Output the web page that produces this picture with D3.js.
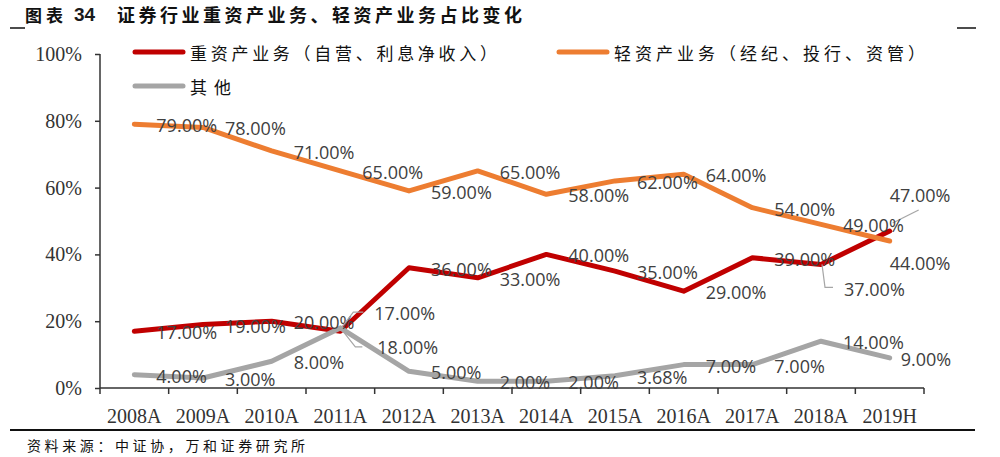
<!DOCTYPE html>
<html><head><meta charset="utf-8">
<script src="https://cdn.jsdelivr.net/npm/d3@7/dist/d3.min.js"></script>
<style>
html,body{margin:0;padding:0;background:#fff;}
svg{display:block;}
</style></head>
<body>
<svg id="chart" width="1000" height="457"></svg>
<script>
const categories = ['2008A','2009A','2010A','2011A','2012A','2013A','2014A','2015A','2016A','2017A','2018A','2019H'];
const heavyValues = [17,19,20,17,36,33,40,35,29,39,37,47];
const lightValues = [79,78,71,65,59,65,58,62,64,54,49,44];
const otherValues = [4,3,8,18,5,2,2,3.68,7,7,14,9];
const yTickValues = [0,20,40,60,80,100];
const seriesNames = ['重资产业务（自营、利息净收入）','轻资产业务（经纪、投行、资管）','其他'];
const titlePrefix = '图表';
const titleNumber = '34';
const titleText = '证券行业重资产业务、轻资产业务占比变化';
const sourceText = '资料来源：中证协，万和证券研究所';

(function(){
const series = [
  {name: seriesNames[0], values: heavyValues, color: '#C00000'},
  {name: seriesNames[1], values: lightValues, color: '#ED7D31'},
  {name: seriesNames[2], values: otherValues, color: '#A5A5A5'}
];

// label placement tweaks (series index -> category index -> offsets)
const labelAdjust = {
  0: {3: {dx:34, dy:-18, leader:[[0,-2],[13,-19],[23,-19]]},
      10:{dx:23, dy:25, leader:[[1,0],[4,23],[12,23]]},
      11:{dx:0, dy:-36, leader:[[3,-8],[29,-21]]}},
  1: {11:{dx:0, dy:22}},
  2: {3: {dx:37, dy:19, leader:[[0,0],[15,19],[22,19]]},
      11:{dx:11, dy:1}}
};

const svg = d3.select('#chart');
const pL = 100, pR = 924, pT = 54, pB = 388;

const x = d3.scaleBand().domain(categories).range([pL, pR]);
const xEdge = d3.scaleLinear().domain([0, categories.length]).range([pL, pR]);
const y = d3.scaleLinear().domain([0, 100]).range([pB, pT]);
const cx = c => x(c) + x.bandwidth() / 2;

// title
const title = svg.append('g');
title.append('text').attr('x', 25).attr('y', 14).attr('dominant-baseline','central')
  .attr('font-family','Noto Sans CJK SC').attr('font-weight','bold').attr('font-size',17)
  .attr('fill','#111').text(titlePrefix).attr('textLength', 38).attr('lengthAdjust','spacing');
title.append('text').attr('x', 74).attr('y', 14).attr('dominant-baseline','central')
  .attr('font-family','Liberation Sans').attr('font-weight','bold').attr('font-size',19)
  .attr('fill','#1a1a1a').text(titleNumber);
title.append('text').attr('x', 117).attr('y', 14).attr('dominant-baseline','central')
  .attr('font-family','Noto Sans CJK SC').attr('font-weight','bold').attr('font-size',18)
  .attr('fill','#111').text(titleText).attr('textLength', 405).attr('lengthAdjust','spacing');
svg.append('line').attr('x1',10).attr('x2',25).attr('y1',28).attr('y2',28).attr('stroke','#111').attr('stroke-width',1.5);
svg.append('line').attr('x1',957).attr('x2',976).attr('y1',28).attr('y2',28).attr('stroke','#111').attr('stroke-width',1.5);

// y axis
const yAxis = svg.append('g').attr('transform', `translate(${pL},0)`)
  .call(d3.axisLeft(y).tickValues(yTickValues).tickFormat(d => d + '%').tickSize(5).tickPadding(13));
yAxis.select('.domain').attr('stroke','#333').attr('stroke-width',1.5).attr('d', `M0,${pT}V${pB}`);
yAxis.selectAll('.tick line').attr('stroke','#333').attr('stroke-width',1.5);
yAxis.selectAll('.tick text').attr('font-family','Liberation Serif').attr('font-size',20).attr('fill','#333');

// x axis
const xAxis = svg.append('g').attr('transform', `translate(0,${pB})`)
  .call(d3.axisBottom(x).tickSize(0).tickPadding(0));
xAxis.select('.domain').attr('stroke','#333').attr('stroke-width',1.5).attr('d', `M${pL},0H${pR}`);
xAxis.selectAll('.tick text').attr('font-family','Liberation Serif').attr('font-size',20).attr('fill','#333')
  .attr('y', 28).attr('dy', null).attr('dominant-baseline','central');
xAxis.selectAll('line.edge').data(d3.range(categories.length + 1)).join('line').attr('class','edge')
  .attr('x1', i => xEdge(i)).attr('x2', i => xEdge(i)).attr('y1', 0).attr('y2', 6)
  .attr('stroke','#333').attr('stroke-width',1.5);

// lines
const line = d3.line().x((d, i) => cx(categories[i])).y(d => y(d));
series.forEach(s => {
  svg.append('path').attr('d', line(s.values)).attr('fill','none')
    .attr('stroke', s.color).attr('stroke-width', 5)
    .attr('stroke-linejoin','round').attr('stroke-linecap','round');
});

// labels
series.forEach((s, si) => {
  s.values.forEach((v, i) => {
    const px = cx(categories[i]), py = y(v);
    const adj = (labelAdjust[si] && labelAdjust[si][i]) || {dx: 22, dy: 1};
    if (adj.leader) {
      svg.append('path').attr('d', d3.line()(adj.leader.map(p => [px + p[0], py + p[1]])))
        .attr('fill','none').attr('stroke','#A6A6A6').attr('stroke-width',1.2);
    }
    svg.append('text').attr('x', px + adj.dx).attr('y', py + adj.dy)
      .attr('dominant-baseline','central')
      .attr('font-family','Open Sans').attr('font-size',18).attr('fill','#404040')
      .text(v.toFixed(2) + '%');
  });
});

// legend
const legendItems = [
  {s: series[0], lx: 135, ty: 52, tlen: 307},
  {s: series[1], lx: 559, ty: 52, tlen: 311},
  {s: series[2], lx: 135, ty: 86, tlen: 41}
];
legendItems.forEach(it => {
  svg.append('line').attr('x1', it.lx).attr('x2', it.lx + 48).attr('y1', it.ty).attr('y2', it.ty)
    .attr('stroke', it.s.color).attr('stroke-width', 5).attr('stroke-linecap','round');
  svg.append('text').attr('x', it.lx + 55).attr('y', it.ty).attr('dominant-baseline','central')
    .attr('font-family','Noto Sans CJK SC').attr('font-size',17).attr('fill','#111')
    .attr('textLength', it.tlen).attr('lengthAdjust','spacing').text(it.s.name);
});

// bottom rule and source
svg.append('line').attr('x1',10).attr('x2',975).attr('y1',430).attr('y2',430).attr('stroke','#111').attr('stroke-width',2);
svg.append('text').attr('x', 27).attr('y', 445).attr('dominant-baseline','central')
  .attr('font-family','Noto Sans CJK SC').attr('font-size',14).attr('fill','#111')
  .attr('textLength', 278).attr('lengthAdjust','spacing').text(sourceText);
})();
</script>
</body></html>
